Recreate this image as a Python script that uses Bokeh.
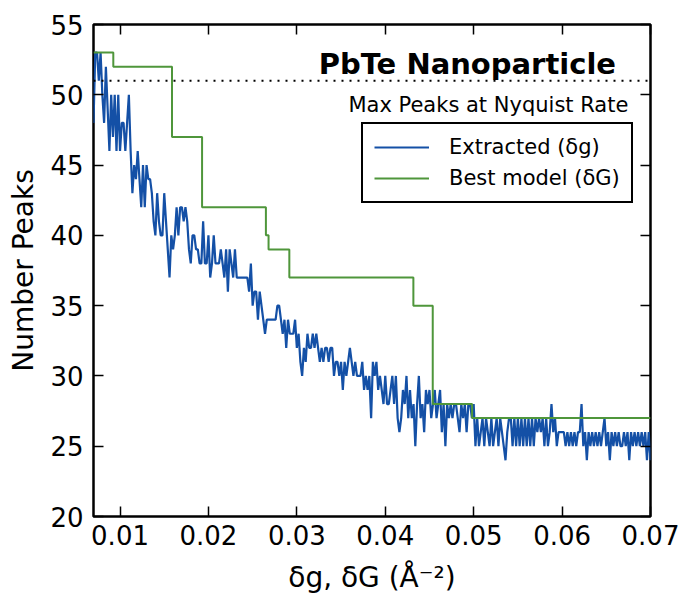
import numpy as np
from bokeh.plotting import figure
from bokeh.models import Range1d, FixedTicker, LinearAxis, Label, Span
from bokeh.embed import file_html
from bokeh.resources import INLINE

# ---------------- data ----------------
x_start = 0.007
x_step = 0.0002
extracted_peaks = [
    # 0.0070 - 0.0174
    48, 53, 53, 51, 53, 50, 48, 52, 49, 46,
    50, 47, 50, 46, 50, 46, 48, 48, 46, 48,
    50, 46, 43, 45, 44, 46, 44, 42, 45, 42,
    45, 44, 44, 43, 41, 40, 43, 41, 40, 40,
    43, 41, 39, 37, 40, 39, 40, 42, 40, 42,
    42, 41, 42,
    # 0.0176 - 0.0286
    41, 39, 38, 40, 40, 39, 39, 38, 38, 41,
    38, 38, 40, 37, 38, 40, 38, 38, 38, 39,
    38, 37, 39, 36, 39, 38, 37, 39, 37, 37,
    37, 37, 37, 37, 37, 36, 38, 35, 36, 36,
    34, 36, 35, 34, 33, 34, 34, 34, 34, 34,
    34, 35, 35, 34, 33, 34,
    # 0.0288 - 0.0394
    32, 34, 33, 33, 33, 34, 32, 33, 31, 30,
    32, 31, 33, 32, 32, 33, 32, 33, 32, 31,
    32, 31, 32, 32, 31, 32, 32, 30, 31, 31,
    30, 31, 29, 31, 30, 31, 32, 31, 30, 31,
    30, 30, 30, 31, 29, 30, 29, 30, 27, 31,
    30, 31, 29, 30,
    # 0.0396 - 0.0500
    29, 28, 30, 28, 28, 29, 30, 28, 30, 27,
    26, 27, 29, 28, 30, 27, 29, 27, 28, 25,
    28, 30, 27, 28, 26, 29, 28, 29, 27, 28,
    29, 27, 28, 29, 26, 28, 25, 28, 27, 28,
    27, 28, 28, 27, 26, 28, 27, 28, 26, 28,
    28, 27, 28,
    # 0.0502 - 0.0602
    25, 27, 25, 26, 27, 25, 27, 26, 25, 27,
    25, 26, 27, 25, 27, 26, 25, 24, 26, 27,
    27, 25, 27, 25, 27, 25, 27, 25, 27, 25,
    27, 25, 27, 25, 27, 26, 27, 26, 27, 25,
    27, 25, 26, 28, 26, 27, 25, 26, 26, 26,
    26,
    # 0.0604 - 0.0700
    25, 26, 25, 26, 25, 26, 25, 26, 26, 28,
    25, 26, 24, 26, 25, 26, 25, 26, 25, 26,
    25, 26, 27, 25, 26, 24, 26, 25, 26, 25,
    26, 25, 25, 26, 25, 26, 24, 26, 25, 26,
    25, 26, 25, 26, 25, 26, 24, 26, 24,
]
extracted_dg = [round(x_start + i * x_step, 4) for i in range(len(extracted_peaks))]

model_dG = [0.007, 0.00924, 0.01588, 0.01928, 0.0265, 0.0268, 0.02915,
            0.04318, 0.04537, 0.04982, 0.07]
model_peaks = [53, 52, 47, 42, 40, 39, 37, 35, 28, 27, 27]

nyquist_max = 51
x_ticks = [0.01, 0.02, 0.03, 0.04, 0.05, 0.06, 0.07]
y_ticks = [20, 25, 30, 35, 40, 45, 50, 55]
x_tick_labels = {t: f"{t:.2f}" for t in x_ticks}

FONT = "DejaVu Sans"
BLUE = "#1450a6"
GREEN = "#4f963b"

# ---------------- figure ----------------
p = figure(width=681, height=600,
           x_range=Range1d(0.007, 0.07), y_range=Range1d(20, 55),
           output_backend="svg", toolbar_location=None,
           min_border_left=93, min_border_right=31,
           min_border_top=24, min_border_bottom=84)
p.background_fill_color = "white"
p.border_fill_color = "white"
p.xgrid.grid_line_color = None
p.ygrid.grid_line_color = None
p.outline_line_color = "black"
p.outline_line_width = 2.5
p.outline_line_alpha = 1.0

p.xaxis.ticker = FixedTicker(ticks=x_ticks)
p.xaxis.major_label_overrides = x_tick_labels
p.yaxis.ticker = FixedTicker(ticks=y_ticks)
for ax in (p.xaxis[0], p.yaxis[0]):
    ax.major_tick_in = 10
    ax.major_tick_out = 0
    ax.major_tick_line_width = 1.5
    ax.major_tick_line_color = "black"
    ax.minor_tick_line_color = None
    ax.axis_line_color = None
    ax.major_label_text_font = FONT
    ax.major_label_text_font_size = "26px"
    ax.major_label_text_color = "black"
    ax.axis_label_text_font = FONT
    ax.axis_label_text_font_size = "28px"
    ax.axis_label_text_font_style = "normal"
    ax.axis_label_text_color = "black"

p.xaxis.major_label_standoff = 8
p.xaxis.axis_label = "δg, δG (Å⁻²)"
p.xaxis.axis_label_standoff = 13
p.yaxis.major_label_standoff = 10
p.yaxis.axis_label = "Number Peaks"
p.yaxis.axis_label_standoff = 7

top_axis = LinearAxis(ticker=FixedTicker(ticks=x_ticks),
                      major_label_overrides={t: "" for t in x_ticks},
                      major_label_standoff=0, major_label_text_font_size="1px",
                      major_tick_in=10, major_tick_out=0, major_tick_line_width=1.5,
                      minor_tick_line_color=None, axis_line_color=None)
right_axis = LinearAxis(ticker=FixedTicker(ticks=y_ticks),
                        major_label_overrides={t: "" for t in y_ticks},
                        major_label_standoff=0, major_label_text_font_size="1px",
                        major_tick_in=10, major_tick_out=0, major_tick_line_width=1.5,
                        minor_tick_line_color=None, axis_line_color=None)
p.add_layout(top_axis, "above")
p.add_layout(right_axis, "right")

# dotted Nyquist line
p.add_layout(Span(location=nyquist_max, dimension="width", line_color="black",
                  line_dash="2 6", line_width=2))

# data lines
p.line(extracted_dg, extracted_peaks, line_color=BLUE, line_width=2.2,
       legend_label="Extracted (δg)")
p.step(model_dG, model_peaks, mode="after", line_color=GREEN, line_width=2,
       legend_label="Best model (δG)")

# texts
p.add_layout(Label(x=0.0661, y=52.2, text="PbTe Nanoparticle",
                   text_font=FONT, text_font_size="29px", text_font_style="bold",
                   text_align="right", text_baseline="alphabetic", text_color="black"))
p.add_layout(Label(x=0.0675, y=49.3, text="Max Peaks at Nyquist Rate",
                   text_font=FONT, text_font_size="21px",
                   text_align="right", text_baseline="alphabetic", text_color="black"))

# legend
lg = p.legend[0]
lg.location = (268, 313)
lg.margin = 0
lg.padding = 11
lg.spacing = 7
lg.glyph_width = 55
lg.glyph_height = 20
lg.label_height = 20
lg.label_standoff = 20
lg.label_text_font = FONT
lg.label_text_font_size = "21px"
lg.label_text_color = "black"
lg.border_line_color = "black"
lg.border_line_width = 2
lg.border_line_alpha = 1.0
lg.background_fill_color = "white"
lg.background_fill_alpha = 1.0

open("out.html", "w").write(file_html(p, INLINE))
